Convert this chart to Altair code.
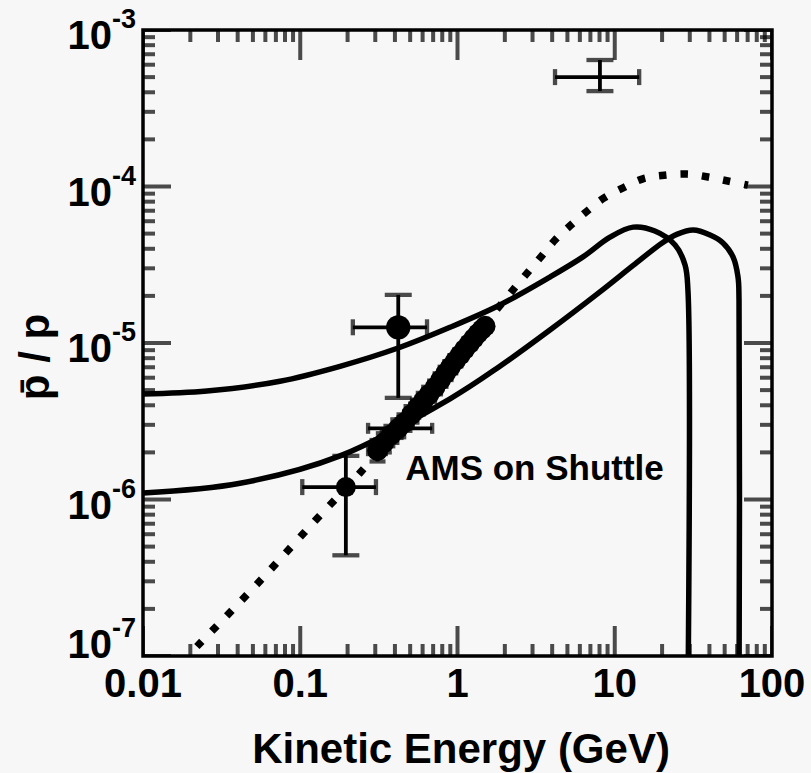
import altair as alt
import pandas as pd

# ---------------- data ----------------
# Model curves: antiproton/proton ratio vs kinetic energy (GeV)
upper_E = [0.01, 0.0255, 0.0743, 0.179, 0.419, 0.896, 1.86, 3.87, 6.28, 9.33,
           13.1, 18.0, 24.2, 28.0, 29.2, 29.2]
upper_R = [4.72e-6, 4.93e-6, 5.7e-6, 7.1e-6, 9.29e-6, 1.26e-5, 1.75e-5, 2.64e-5,
           3.55e-5, 4.75e-5, 5.5e-5, 5.2e-5, 4.23e-5, 3.15e-5, 2.18e-5, 5e-8]

lower_E = [0.01, 0.0414, 0.179, 0.896, 1.86, 3.87, 8.05, 13.1, 20.0, 25.0, 31.5,
           40.4, 48.8, 56.5, 60.8, 61.7, 61.7]
lower_R = [1.10e-6, 1.27e-6, 1.90e-6, 4.4e-6, 7.1e-6, 1.21e-5, 2.12e-5, 3.13e-5,
           4.36e-5, 4.96e-5, 5.27e-5, 4.9e-5, 4.36e-5, 3.55e-5, 2.64e-5, 1.88e-5, 5e-8]

dotted_E = [0.022, 0.0531, 0.124, 0.24, 0.6, 1.0, 1.5, 2.25, 3.35, 4.17, 5.19,
            6.67, 8.55, 11.3, 15.1, 20.6, 28.8, 39.2, 53.3, 70.3]
dotted_R = [1.15e-7, 2.88e-7, 7.3e-7, 1.48e-6, 4.2e-6, 7.9e-6, 1.33e-5, 2.18e-5,
            3.5e-5, 4.55e-5, 5.6e-5, 6.97e-5, 8.45e-5, 9.8e-5, 1.12e-4, 1.18e-4,
            1.20e-4, 1.15e-4, 1.08e-4, 1.02e-4]

# Measurements with error bars
meas_E = [0.195, 0.42, 8.05]
meas_R = [1.20e-6, 1.26e-5, 5.0e-4]
meas_Elo = [0.103, 0.216, 4.17]
meas_Ehi = [0.303, 0.64, 14.3]
meas_Rlo = [4.4e-7, 4.46e-6, 4.07e-4]
meas_Rhi = [1.9e-6, 2.03e-5, 6.43e-4]

# Expected AMS shuttle points
ams_E = [0.31, 0.34, 0.38, 0.42, 0.46, 0.51, 0.56, 0.61, 0.66, 0.72, 0.78,
         0.84, 0.90, 0.97, 1.04, 1.11, 1.19, 1.27, 1.35, 1.43, 1.50]
ams_R = [2.05e-6, 2.3e-6, 2.6e-6, 2.85e-6, 3.1e-6, 3.5e-6, 3.9e-6, 4.3e-6, 4.7e-6,
         5.2e-6, 5.8e-6, 6.4e-6, 7.0e-6, 7.7e-6, 8.4e-6, 9.1e-6, 9.9e-6, 1.07e-5,
         1.15e-5, 1.22e-5, 1.28e-5]
ams_Elo = [0.27, 0.30, 0.33, 0.27, 0.41, 0.46, 0.50, 0.55, 0.60, 0.66, 0.72,
           0.78, 0.84, 0.91, 0.98, 1.05, 1.13, 1.21, 1.29, 1.37, 1.44]
ams_Ehi = [0.35, 0.39, 0.44, 0.69, 0.52, 0.57, 0.62, 0.67, 0.72, 0.78, 0.84,
           0.90, 0.96, 1.03, 1.10, 1.17, 1.25, 1.33, 1.41, 1.49, 1.56]
ams_Rlo = [1.75e-6, 2.0e-6, 2.3e-6, 2.5e-6, 2.75e-6, 3.1e-6, 3.5e-6, 3.85e-6, 4.2e-6,
           4.7e-6, 5.25e-6, 5.8e-6, 6.4e-6, 7.1e-6, 7.8e-6, 8.5e-6, 9.2e-6, 1.0e-5,
           1.08e-5, 1.15e-5, 1.21e-5]
ams_Rhi = [2.4e-6, 2.65e-6, 2.95e-6, 3.25e-6, 3.5e-6, 3.95e-6, 4.35e-6, 4.8e-6, 5.25e-6,
           5.75e-6, 6.4e-6, 7.05e-6, 7.65e-6, 8.35e-6, 9.05e-6, 9.75e-6, 1.06e-5, 1.14e-5,
           1.22e-5, 1.29e-5, 1.35e-5]

# Axis ticks and labels
x_major = [0.01, 0.1, 1, 10, 100]
x_labels = ["0.01", "0.1", "1", "10", "100"]
x_minor = [m * 10.0 ** d for d in (-2, -1, 0, 1) for m in range(2, 10)]
y_major = [1e-3, 1e-4, 1e-5, 1e-6, 1e-7]
y_exps = ["-3", "-4", "-5", "-6", "-7"]
y_minor = [m * 10.0 ** d for d in (-7, -6, -5, -4) for m in range(2, 10)]

# ---------------- chart ----------------
W, H = 629, 626
FONT = "Liberation Sans"
INK = "black"

xs = alt.Scale(type="log", domain=[0.01, 100], nice=False)
ys = alt.Scale(type="log", domain=[1e-7, 1e-3], nice=False)


def X(f="E"):
    return alt.X(f"{f}:Q", scale=xs, axis=None)


def Y(f="R"):
    return alt.Y(f"{f}:Q", scale=ys, axis=None)


def curve(E, R):
    return pd.DataFrame({"E": E, "R": R, "i": range(len(E))})


def solid(E, R):
    return alt.Chart(curve(E, R)).mark_line(
        color=INK, strokeWidth=5.5, clip=True, interpolate="catmull-rom"
    ).encode(x=X(), y=Y(), order="i:Q")


upper = solid(upper_E, upper_R)
lower = solid(lower_E, lower_R)

dotted = alt.Chart(curve(dotted_E, dotted_R)).mark_line(
    color=INK, strokeWidth=7.5, strokeDash=[7.5, 14], strokeCap="butt", clip=True,
    interpolate="catmull-rom"
).encode(x=X(), y=Y(), order="i:Q")

meas = pd.DataFrame({"E": meas_E, "R": meas_R, "Elo": meas_Elo, "Ehi": meas_Ehi,
                     "Rlo": meas_Rlo, "Rhi": meas_Rhi, "k": [0, 1, 2]})
ams = pd.DataFrame({"E": ams_E, "R": ams_R, "Elo": ams_Elo, "Ehi": ams_Ehi,
                    "Rlo": ams_Rlo, "Rhi": ams_Rhi})


def errorbars(df, cap_w, cap_h, lw):
    base = alt.Chart(df)
    xb = base.mark_rule(color=INK, strokeWidth=lw).encode(x=X("Elo"), x2="Ehi:Q", y=Y())
    yb = base.mark_rule(color=INK, strokeWidth=lw).encode(x=X(), y=Y("Rlo"), y2="Rhi:Q")
    caps = []
    for f in ("Rlo", "Rhi"):
        caps.append(base.mark_tick(orient="horizontal", size=cap_w, thickness=lw + 0.5, color=INK)
                    .encode(x=X(), y=Y(f)))
    for f in ("Elo", "Ehi"):
        caps.append(base.mark_tick(orient="vertical", size=cap_h, thickness=lw + 0.5, color=INK)
                    .encode(x=X(f), y=Y()))
    return [xb, yb] + caps


meas_layers = errorbars(meas, 27, 16, 3.8)
ams_layers = errorbars(ams, 16, 11, 3.8)

dot_small = alt.Chart(meas).transform_filter("datum.k == 0").mark_circle(
    size=400, opacity=1, color=INK).encode(x=X(), y=Y())
dot_big = alt.Chart(meas).transform_filter("datum.k == 1").mark_circle(
    size=590, opacity=1, color=INK).encode(x=X(), y=Y())
ams_dots = alt.Chart(ams).mark_circle(size=430, opacity=1, color=INK).encode(x=X(), y=Y())

label = alt.Chart(pd.DataFrame({"E": [0.465], "R": [1.33e-6], "t": ["AMS on Shuttle"]})).mark_text(
    font=FONT, fontWeight="bold", fontSize=35, align="left", baseline="alphabetic", color=INK
).encode(x=X(), y=Y(), text="t:N")


# inward ticks on all four sides (half of each tick is clipped away)
def xticks(vals, length, ypix):
    return alt.Chart(pd.DataFrame({"E": vals})).mark_tick(
        orient="vertical", size=2 * length, thickness=4, color=INK, clip=True
    ).encode(x=X(), y=alt.value(ypix))


def yticks(vals, length, xpix):
    return alt.Chart(pd.DataFrame({"R": vals})).mark_tick(
        orient="horizontal", size=2 * length, thickness=4, color=INK, clip=True
    ).encode(y=Y(), x=alt.value(xpix))


ticks = [
    xticks(x_major, 30, H), xticks(x_minor, 12, H),
    xticks(x_major, 30, 0), xticks(x_minor, 12, 0),
    yticks(y_major, 28, 0), yticks(y_minor, 12, 0),
    yticks(y_major, 28, W), yticks(y_minor, 12, W),
]

xlab = alt.Chart(pd.DataFrame({"E": x_major, "t": x_labels})).mark_text(
    font=FONT, fontWeight="bold", fontSize=40, align="center", baseline="alphabetic", color=INK
).encode(x=X(), y=alt.value(H + 41), text="t:N")

ylab_df = pd.DataFrame({"R": y_major, "e": y_exps, "b": ["10"] * len(y_major)})
ylab_top = ylab_df.iloc[:4]
ylab_bot = ylab_df.iloc[4:]


def ylabels(df, dy):
    base = alt.Chart(df)
    ten = base.mark_text(font=FONT, fontWeight="bold", fontSize=40, align="right",
                         baseline="alphabetic", dy=dy, color=INK
                         ).encode(y=Y(), x=alt.value(-31), text="b:N")
    ex = base.mark_text(font=FONT, fontWeight="bold", fontSize=27, align="left",
                        baseline="alphabetic", dy=dy - 21, color=INK
                        ).encode(y=Y(), x=alt.value(-31), text="e:N")
    return [ten, ex]


ylabs = ylabels(ylab_top, 19) + ylabels(ylab_bot, 2)

xtitle = alt.Chart(pd.DataFrame({"t": ["Kinetic Energy (GeV)"]})).mark_text(
    font=FONT, fontWeight="bold", fontSize=42, align="center", baseline="alphabetic", color=INK
).encode(x=alt.value(318), y=alt.value(733), text="t:N")

ytitle = alt.Chart(pd.DataFrame({"t": ["p\u0304 / p"]})).mark_text(
    font=FONT, fontWeight="bold", fontSize=42, align="center", baseline="middle",
    angle=270, color=INK
).encode(x=alt.value(-107), y=alt.value(327), text="t:N")

chart = alt.layer(
    *ticks, upper, lower, dotted, *meas_layers, *ams_layers,
    ams_dots, dot_small, dot_big, label, xlab, *ylabs, xtitle, ytitle
).properties(
    width=W, height=H,
    padding={"left": 143, "top": 30, "right": 39, "bottom": 117},
    autosize=alt.AutoSizeParams(type="none"),
    background="#f7f7f7",
).configure_view(stroke=INK, strokeWidth=3.5)

chart.save("out.html", embed_options={"renderer": "svg", "actions": False})
